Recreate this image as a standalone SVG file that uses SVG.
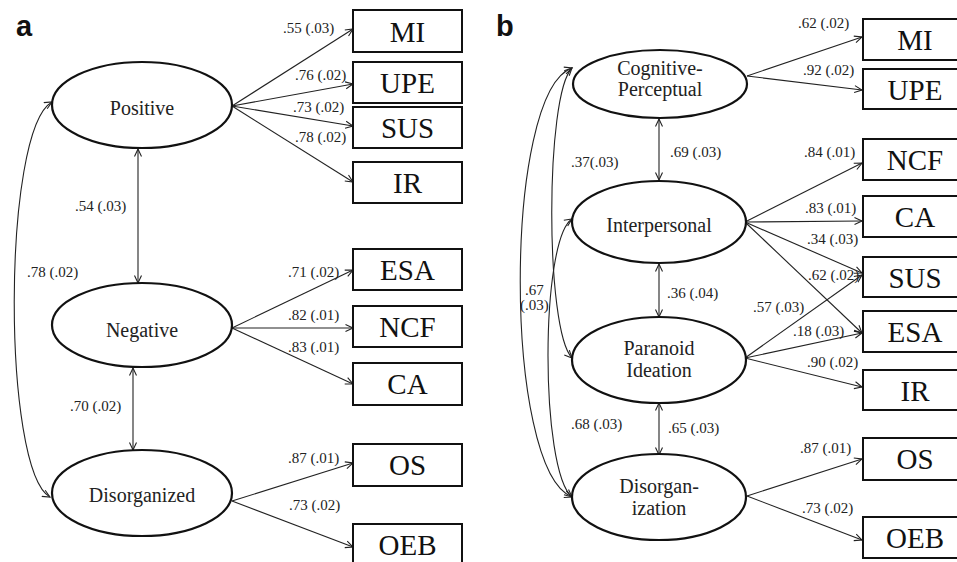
<svg xmlns="http://www.w3.org/2000/svg" width="957" height="562" viewBox="0 0 957 562">
<style>
.lat{fill:#fff;stroke:#111;stroke-width:2.2}
.box{fill:#fff;stroke:#111;stroke-width:2}
.lt{font-family:'Liberation Serif','Times New Roman',Times,'DejaVu Serif',serif;font-size:20px;fill:#222;text-anchor:middle}
.bt{font-family:'Liberation Serif','Times New Roman',Times,'DejaVu Serif',serif;font-size:29px;fill:#111;text-anchor:middle}
.nl{font-family:'Liberation Serif','Times New Roman',Times,'DejaVu Serif',serif;font-size:15px;fill:#222}
.pl{font-family:'Liberation Sans',Arial,sans-serif;font-size:29px;font-weight:bold;fill:#111}
.c path,.c line{fill:none;stroke:#222;stroke-width:1.1}
.a{marker-end:url(#ah)}
.d{marker-start:url(#ah);marker-end:url(#ah)}
</style>
<defs>
<marker id="ah" markerUnits="userSpaceOnUse" markerWidth="10" markerHeight="10" refX="8" refY="4" orient="auto-start-reverse" viewBox="0 0 10 8">
<path d="M0.5,0.5 L8,4 L0.5,7.5" fill="none" stroke="#222" stroke-width="1.1"/>
</marker>
</defs>
<text class="pl" x="16" y="36">a</text>
<text class="pl" x="496" y="36">b</text>
<g id="connectors" class="c">
<line class="a" x1="232" y1="106" x2="353" y2="29"/>
<line class="a" x1="232" y1="106" x2="353" y2="84"/>
<line class="a" x1="232" y1="106" x2="353" y2="126"/>
<line class="a" x1="232" y1="106" x2="353" y2="182"/>
<line class="a" x1="232" y1="328" x2="353" y2="270"/>
<line class="a" x1="232" y1="328" x2="353" y2="328"/>
<line class="a" x1="232" y1="328" x2="353" y2="384"/>
<line class="a" x1="232" y1="501" x2="353" y2="463"/>
<line class="a" x1="232" y1="501" x2="353" y2="547"/>
<line class="d" x1="138" y1="149" x2="138" y2="283"/>
<line class="d" x1="133" y1="368" x2="133" y2="450"/>
<path class="d" d="M52 102 C2 130,2 470,50 497"/>
<line class="a" x1="747" y1="76" x2="862" y2="37"/>
<line class="a" x1="747" y1="76" x2="862" y2="90"/>
<line class="a" x1="745" y1="222" x2="862" y2="163"/>
<line class="a" x1="745" y1="222" x2="862" y2="221"/>
<line class="a" x1="745" y1="222" x2="862" y2="273"/>
<line class="a" x1="745" y1="222" x2="862" y2="333"/>
<line class="a" x1="745" y1="358" x2="862" y2="275"/>
<line class="a" x1="745" y1="358" x2="862" y2="333"/>
<line class="a" x1="745" y1="358" x2="862" y2="387"/>
<line class="a" x1="747" y1="496" x2="862" y2="459"/>
<line class="a" x1="747" y1="496" x2="862" y2="540"/>
<line class="d" x1="659" y1="119" x2="659" y2="180"/>
<line class="d" x1="659" y1="264" x2="659" y2="317"/>
<line class="d" x1="659" y1="403" x2="659" y2="455"/>
<path class="d" d="M572 68 C503 92,503 470,572 497"/>
<path class="d" d="M572 68 C545 95,545 330,572 358"/>
<path class="d" d="M572 219 C540 240,540 470,572 497"/>
</g>
<g id="positive"><ellipse class="lat" cx="142" cy="105" rx="90" ry="43"/><text class="lt" x="142" y="115">Positive</text></g>
<g id="negative"><ellipse class="lat" cx="142" cy="325" rx="90" ry="42"/><text class="lt" x="142" y="337">Negative</text></g>
<g id="disorganized"><ellipse class="lat" cx="142" cy="493" rx="90" ry="43"/><text class="lt" x="142" y="502">Disorganized</text></g>
<g id="a-MI"><rect class="box" x="353" y="10" width="109" height="42"/><text class="bt" x="407.5" y="42">MI</text></g>
<g id="a-UPE"><rect class="box" x="353" y="62" width="109" height="41"/><text class="bt" x="407.5" y="93">UPE</text></g>
<g id="a-SUS"><rect class="box" x="353" y="107" width="109" height="41"/><text class="bt" x="407.5" y="138">SUS</text></g>
<g id="a-IR"><rect class="box" x="353" y="162" width="109" height="41"/><text class="bt" x="407.5" y="193">IR</text></g>
<g id="a-ESA"><rect class="box" x="353" y="249" width="109" height="41"/><text class="bt" x="407.5" y="280">ESA</text></g>
<g id="a-NCF"><rect class="box" x="353" y="306" width="109" height="41"/><text class="bt" x="407.5" y="337">NCF</text></g>
<g id="a-CA"><rect class="box" x="353" y="363" width="109" height="42"/><text class="bt" x="407.5" y="394">CA</text></g>
<g id="a-OS"><rect class="box" x="353" y="444" width="109" height="42"/><text class="bt" x="407.5" y="475">OS</text></g>
<g id="a-OEB"><rect class="box" x="353" y="524" width="109" height="42"/><text class="bt" x="407.5" y="555">OEB</text></g>
<g id="a-labels">
<text class="nl" x="283" y="33">.55 (.03)</text>
<text class="nl" x="295" y="80">.76 (.02)</text>
<text class="nl" x="293" y="112">.73 (.02)</text>
<text class="nl" x="295" y="142">.78 (.02)</text>
<text class="nl" x="75" y="211">.54 (.03)</text>
<text class="nl" x="27" y="277">.78 (.02)</text>
<text class="nl" x="288" y="277">.71 (.02)</text>
<text class="nl" x="288" y="320">.82 (.01)</text>
<text class="nl" x="288" y="352">.83 (.01)</text>
<text class="nl" x="70" y="411">.70 (.02)</text>
<text class="nl" x="288" y="463">.87 (.01)</text>
<text class="nl" x="289" y="510">.73 (.02)</text>
</g>
<g id="cognitive-perceptual"><ellipse class="lat" cx="660" cy="84" rx="87" ry="34"/><text class="lt" x="660" y="75">Cognitive-</text><text class="lt" x="660" y="96">Perceptual</text></g>
<g id="interpersonal"><ellipse class="lat" cx="659" cy="222" rx="87" ry="41"/><text class="lt" x="659" y="232">Interpersonal</text></g>
<g id="paranoid-ideation"><ellipse class="lat" cx="659" cy="360" rx="87" ry="43"/><text class="lt" x="659" y="355">Paranoid</text><text class="lt" x="659" y="377">Ideation</text></g>
<g id="disorganization"><ellipse class="lat" cx="659" cy="497" rx="87" ry="43"/><text class="lt" x="659" y="493">Disorgan-</text><text class="lt" x="659" y="515">ization</text></g>
<g id="b-MI"><rect class="box" x="863" y="19" width="109" height="41"/><text class="bt" x="915" y="50">MI</text></g>
<g id="b-UPE"><rect class="box" x="863" y="69" width="109" height="40"/><text class="bt" x="915" y="100">UPE</text></g>
<g id="b-NCF"><rect class="box" x="863" y="139" width="109" height="41"/><text class="bt" x="915" y="170">NCF</text></g>
<g id="b-CA"><rect class="box" x="863" y="196" width="109" height="41"/><text class="bt" x="915" y="227">CA</text></g>
<g id="b-SUS"><rect class="box" x="863" y="257" width="109" height="40"/><text class="bt" x="915" y="288">SUS</text></g>
<g id="b-ESA"><rect class="box" x="863" y="311" width="109" height="41"/><text class="bt" x="915" y="342">ESA</text></g>
<g id="b-IR"><rect class="box" x="863" y="370" width="109" height="40"/><text class="bt" x="915" y="401">IR</text></g>
<g id="b-OS"><rect class="box" x="863" y="438" width="109" height="42"/><text class="bt" x="915" y="469">OS</text></g>
<g id="b-OEB"><rect class="box" x="863" y="517" width="109" height="41"/><text class="bt" x="915" y="548">OEB</text></g>
<g id="b-labels">
<text class="nl" x="798" y="28">.62 (.02)</text>
<text class="nl" x="803" y="75">.92 (.02)</text>
<text class="nl" x="670" y="157">.69 (.03)</text>
<text class="nl" x="571" y="167">.37(.03)</text>
<text class="nl" x="804" y="157">.84 (.01)</text>
<text class="nl" x="805" y="213">.83 (.01)</text>
<text class="nl" x="807" y="244">.34 (.03)</text>
<text class="nl" x="808" y="280">.62 (.02)</text>
<text class="nl" x="667" y="298">.36 (.04)</text>
<text class="nl" x="525" y="295">.67</text>
<text class="nl" x="520" y="310">(.03)</text>
<text class="nl" x="753" y="312">.57 (.03)</text>
<text class="nl" x="793" y="336">.18 (.03)</text>
<text class="nl" x="807" y="367">.90 (.02)</text>
<text class="nl" x="571" y="429">.68 (.03)</text>
<text class="nl" x="668" y="433">.65 (.03)</text>
<text class="nl" x="800" y="453">.87 (.01)</text>
<text class="nl" x="802" y="513">.73 (.02)</text>
</g>
</svg>
